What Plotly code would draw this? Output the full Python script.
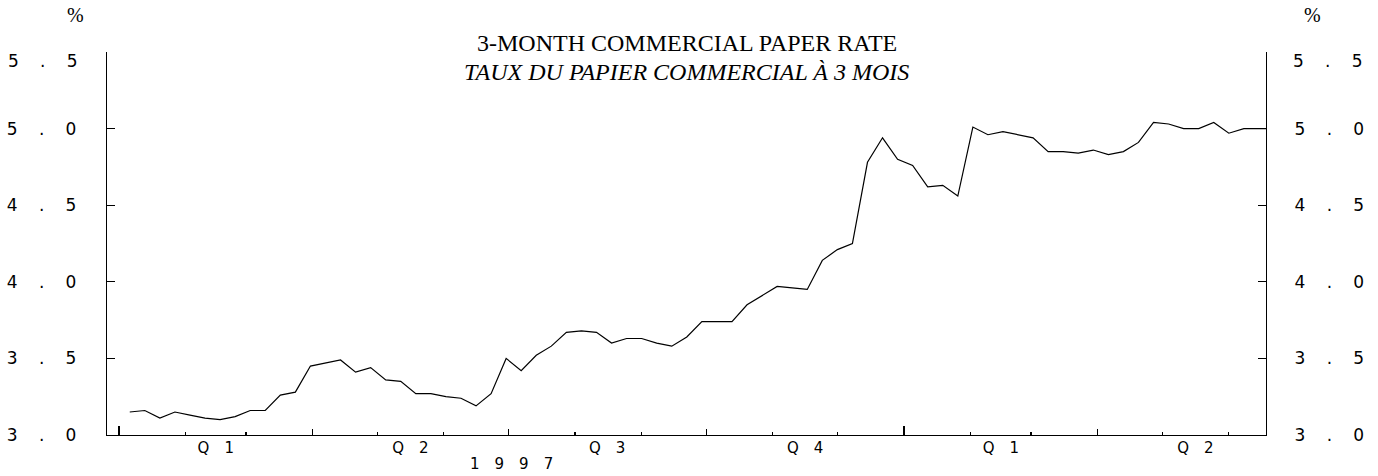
import pandas as pd
import plotly.graph_objects as go

# ---- data -------------------------------------------------------------
rate = [3.15, 3.16, 3.11, 3.15, 3.13, 3.11, 3.10, 3.12, 3.16, 3.16,
        3.26, 3.28, 3.45, 3.47, 3.49, 3.41, 3.44, 3.36, 3.35, 3.27,
        3.27, 3.25, 3.24, 3.19, 3.27, 3.50, 3.42, 3.52, 3.58, 3.67,
        3.68, 3.67, 3.60, 3.63, 3.63, 3.60, 3.58, 3.64, 3.74, 3.74,
        3.74, 3.85, 3.91, 3.97, 3.96, 3.95, 4.14, 4.21, 4.25, 4.78,
        4.94, 4.80, 4.76, 4.62, 4.63, 4.56, 5.01, 4.96, 4.98, 4.96,
        4.94, 4.85, 4.85, 4.84, 4.86, 4.83, 4.85, 4.91, 5.04, 5.03,
        5.00, 5.00, 5.04, 4.97, 5.00, 5.00, 5.00]
weeks = pd.date_range("1997-01-06", periods=len(rate), freq="7D")

x_range = ["1996-12-26 10:00", "1998-06-18 07:00"]
month_starts = pd.date_range("1997-01-01", "1998-06-01", freq="MS")
quarter_starts = pd.date_range("1997-01-01", "1998-04-01", freq="QS")
quarter_labels = ["Q1", "Q2", "Q3", "Q4", "Q1", "Q2"]
year_starts = pd.to_datetime(["1997-01-01", "1998-01-01"])
year_label = "1997"

y_ticks = [3.0, 3.5, 4.0, 4.5, 5.0, 5.5]
y_labels = ["3.0", "3.5", "4.0", "4.5", "5.0", "5.5"]

title_en = "3-MONTH COMMERCIAL PAPER RATE"
title_fr = "TAUX DU PAPIER COMMERCIAL À 3 MOIS"
unit = "%"

# ---- helpers ------------------------------------------------------------
GAP = "\u2003\u2005"


def spaced(s, gap):
    return gap.join(list(s))


def qmid(i):
    start = quarter_starts[i]
    end = start + pd.DateOffset(months=3)
    return start + (end - start) / 2


quarter_mids = [qmid(i) for i in range(len(quarter_starts))]
year_mid = year_starts[0] + (year_starts[1] - year_starts[0]) / 2

TICKFONT = dict(family="DejaVu Sans", size=17, color="#000000")
XFONT = dict(family="DejaVu Sans", size=15, color="#000000")
SERIF = "Liberation Serif"

fig = go.Figure()
fig.add_trace(go.Scatter(x=weeks, y=rate, mode="lines",
                         line=dict(color="#000000", width=1.2),
                         showlegend=False, hoverinfo="x+y"))

common_x = dict(type="date", range=x_range, overlaying="x", anchor="y",
                showgrid=False, zeroline=False, showticklabels=False,
                ticks="inside", tickcolor="#000000", tickwidth=1.2,
                fixedrange=True, automargin=False)

fig.update_layout(
    template="none",
    width=1378, height=476,
    margin=dict(l=107, r=112, t=52, b=41, autoexpand=False),
    paper_bgcolor="white", plot_bgcolor="white",
    showlegend=False,
    xaxis=dict(type="date", range=x_range, showgrid=False, zeroline=False,
               showline=True, linecolor="#000000", linewidth=1.2,
               tickmode="array", tickvals=list(month_starts),
               ticks="inside", ticklen=3, tickcolor="#000000", tickwidth=1.2,
               showticklabels=False, automargin=False),
    xaxis2=dict(common_x, tickmode="array", tickvals=list(quarter_starts),
                ticklen=6),
    xaxis3=dict(common_x, tickmode="array", tickvals=list(year_starts),
                ticklen=9),
    xaxis4=dict(type="date", range=x_range, overlaying="x", anchor="y",
                showgrid=False, zeroline=False, ticks="", showline=False,
                tickmode="array", tickvals=quarter_mids,
                ticktext=[spaced(q, "\u2003") for q in quarter_labels],
                showticklabels=True, tickfont=XFONT,
                ticklabelstandoff=2, automargin=False),
    yaxis=dict(range=[3.0, 5.5], showgrid=False, zeroline=False,
               showline=True, linecolor="#000000", linewidth=1.2,
               tickmode="array", tickvals=y_ticks,
               ticktext=[spaced(t, GAP) if v < 5.5 else ""
                         for t, v in zip(y_labels, y_ticks)],
               ticks="inside", ticklen=8, tickcolor="#000000", tickwidth=1.2,
               tickfont=TICKFONT, ticklabelstandoff=26, automargin=False),
    yaxis2=dict(range=[3.0, 5.5], overlaying="y", side="right", anchor="x",
                showgrid=False, zeroline=False,
                showline=True, linecolor="#000000", linewidth=1.2,
                tickmode="array", tickvals=y_ticks,
                ticktext=[spaced(t, GAP) if v < 5.5 else ""
                          for t, v in zip(y_labels, y_ticks)],
                ticks="inside", ticklen=8, tickcolor="#000000", tickwidth=1.2,
                tickfont=TICKFONT, ticklabelstandoff=24, automargin=False),
)

# invisible traces so the overlay axes are drawn
for ax in ["x2", "x3", "x4"]:
    fig.add_trace(go.Scatter(x=[weeks[0]], y=[rate[0]], xaxis=ax, yaxis="y",
                             mode="markers", marker=dict(opacity=0),
                             showlegend=False, hoverinfo="skip"))
fig.add_trace(go.Scatter(x=[weeks[0]], y=[rate[0]], xaxis="x", yaxis="y2",
                         mode="markers", marker=dict(opacity=0),
                         showlegend=False, hoverinfo="skip"))

ann = []
# titles
ann.append(dict(text=title_en, xref="paper", yref="paper", x=0.5, y=1.0235,
                xanchor="center", yanchor="middle", showarrow=False,
                font=dict(family=SERIF, size=24, color="#000000")))
ann.append(dict(text="<i>" + title_fr + "</i>", xref="paper", yref="paper",
                x=0.5, y=0.9478, xanchor="center", yanchor="middle",
                showarrow=False,
                font=dict(family=SERIF, size=24, color="#000000")))
# unit markers
ann.append(dict(text=unit, xref="paper", yref="paper", x=0, y=1.0,
                xanchor="center", yanchor="middle", xshift=-32, yshift=37,
                showarrow=False,
                font=dict(family=SERIF, size=20, color="#000000")))
ann.append(dict(text=unit, xref="paper", yref="paper", x=1, y=1.0,
                xanchor="center", yanchor="middle", xshift=46, yshift=37,
                showarrow=False,
                font=dict(family=SERIF, size=20, color="#000000")))
# top tick labels (shifted down as in the original)
ann.append(dict(text=spaced(y_labels[-1], GAP), xref="paper", yref="y",
                x=0, y=y_ticks[-1], xanchor="right", yanchor="middle",
                xshift=-27, yshift=-9, showarrow=False, font=TICKFONT))
ann.append(dict(text=spaced(y_labels[-1], GAP), xref="paper", yref="y",
                x=1, y=y_ticks[-1], xanchor="left", yanchor="middle",
                xshift=25, yshift=-9, showarrow=False, font=TICKFONT))
# year label
ann.append(dict(text=spaced(year_label, "\u2003"), xref="x", yref="paper",
                x=year_mid, y=0, xanchor="center", yanchor="middle",
                yshift=-29, showarrow=False, font=XFONT))
fig.update_layout(annotations=ann)

fig.write_html("out.html",
               config={"displayModeBar": False, "staticPlot": True},
               post_script="document.body.style.margin='0';"
                           "document.body.style.overflow='hidden';")
